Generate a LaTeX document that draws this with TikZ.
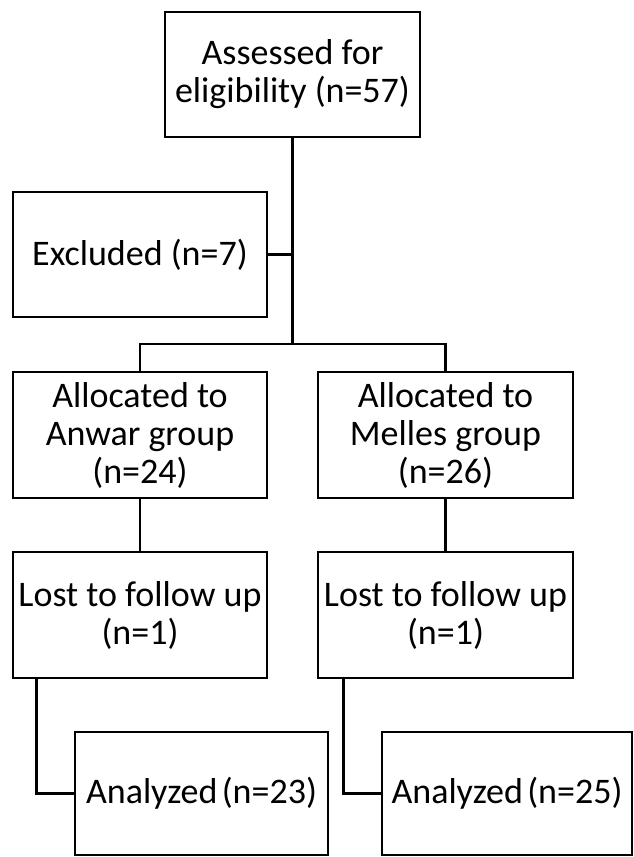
\documentclass[tikz,border=0pt]{standalone}
\usepackage{fontspec}
\setmainfont{Carlito}
\begin{document}
\begin{tikzpicture}[x=1pt,y=-1pt,
  box/.style={draw=black,line width=2.8pt,fill=white,inner sep=0pt,align=center,
    font=\fontsize{36}{38}\selectfont},
  conn/.style={draw=black,line width=2.8pt}]
\useasboundingbox[fill=white] (0,0) rectangle (633,857);
\node[box,minimum width=255pt,minimum height=125pt] (top) at (292.5,74.5) {Assessed for\\eligibility (n=57)};
\node[box,minimum width=254pt,minimum height=125pt] (excl) at (140,254.5) {Excluded (n=7)};
\node[box,minimum width=254pt,minimum height=126pt] (allocL) at (140,435) {Allocated to\\Anwar group\\(n=24)};
\node[box,minimum width=255pt,minimum height=126pt] (allocR) at (445.5,435) {Allocated to\\Melles group\\(n=26)};
\node[box,minimum width=254pt,minimum height=126pt] (lostL) at (140,615) {Lost to follow up\\(n=1)};
\node[box,minimum width=255pt,minimum height=126pt] (lostR) at (445.5,615) {Lost to follow up\\(n=1)};
\node[box,minimum width=253pt,minimum height=123pt] (anaL) at (201.5,793.5) {Analyzed\hspace{0.12em}(n=23)};
\node[box,minimum width=250pt,minimum height=123pt] (anaR) at (507,793.5) {Analyzed\hspace{0.12em}(n=25)};
\coordinate (split) at (292.5,344);
\draw[conn] (top.south) -- (split);
\draw[conn] (excl.east) -- (excl.east -| split);
\draw[conn] (allocL.north) |- (split) -| (allocR.north);
\draw[conn] (allocL.south) -- (lostL.north);
\draw[conn] (allocR.south) -- (lostR.north);
\draw[conn] ([xshift=25pt]lostL.south west) |- (anaL.west);
\draw[conn] ([xshift=27pt]lostR.south west) |- (anaR.west);
\end{tikzpicture}
\end{document}
